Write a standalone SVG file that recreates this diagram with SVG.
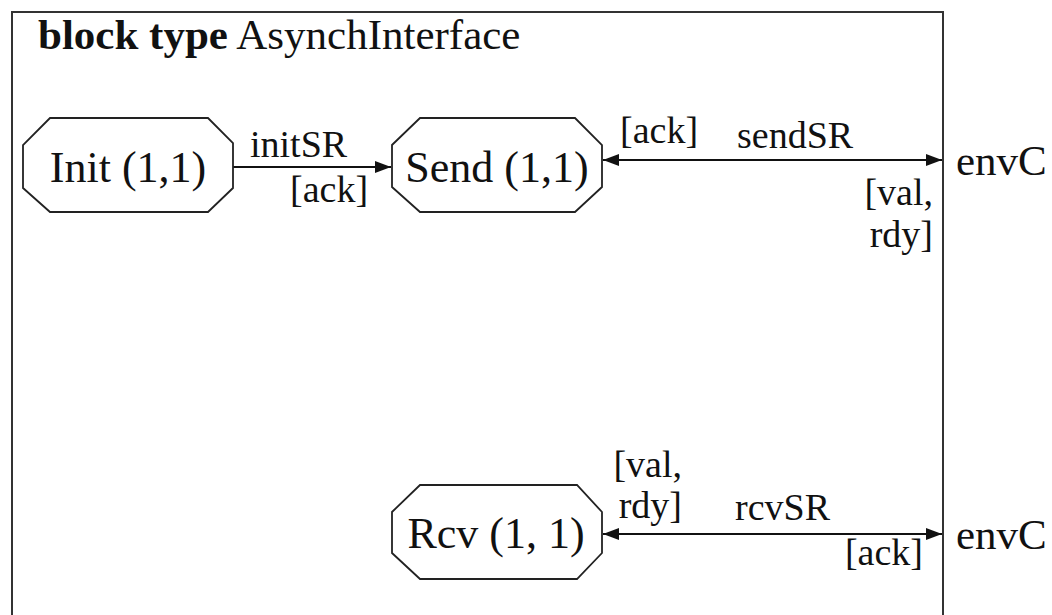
<svg xmlns="http://www.w3.org/2000/svg" width="1052" height="615" viewBox="0 0 1052 615">
<defs>
<style>
.frame{fill:none;stroke:#333;stroke-width:2}
.node{fill:#fff;stroke:#222;stroke-width:1.8}
.ntext{font-family:"Liberation Serif","Times New Roman",serif;font-size:44px;fill:#111;text-anchor:middle}
.lbl{font-family:"Liberation Serif","Times New Roman",serif;font-size:38px;fill:#111}
.title{font-family:"Liberation Serif","Times New Roman",serif;font-size:43px;fill:#111}
.env{font-family:"Liberation Serif","Times New Roman",serif;font-size:43px;fill:#111}
.conn{fill:none;stroke:#111;stroke-width:2}
</style>
<marker id="ah" viewBox="0 0 16 12" refX="16" refY="6" markerWidth="16" markerHeight="12" markerUnits="userSpaceOnUse" orient="auto-start-reverse">
<path d="M0,0 L16,6 L0,12 z" fill="#111"/>
</marker>
</defs>
<rect width="1052" height="615" fill="#fff"/>
<rect class="frame" x="12" y="12" width="931" height="640"/>
<text class="title" x="38" y="49"><tspan font-weight="bold">block type</tspan> AsynchInterface</text>

<g id="connectors">
<line class="conn" x1="233" y1="167" x2="391" y2="167" marker-end="url(#ah)"/>
<line class="conn" x1="603" y1="160" x2="942" y2="160" marker-start="url(#ah)" marker-end="url(#ah)"/>
<line class="conn" x1="603" y1="534" x2="942" y2="534" marker-start="url(#ah)" marker-end="url(#ah)"/>
<text class="lbl" x="250" y="157">initSR</text>
<text class="lbl" x="290" y="202">[ack]</text>
<text class="lbl" x="620" y="143">[ack]</text>
<text class="lbl" x="737" y="148">sendSR</text>
<text class="lbl" x="933" y="205" text-anchor="end">[val,</text>
<text class="lbl" x="933" y="247" text-anchor="end">rdy]</text>
<text class="lbl" x="682" y="477" text-anchor="end">[val,</text>
<text class="lbl" x="682" y="518" text-anchor="end">rdy]</text>
<text class="lbl" x="735" y="520">rcvSR</text>
<text class="lbl" x="923" y="565" text-anchor="end">[ack]</text>
</g>

<g id="node-init">
<polygon class="node" points="50,118 208,118 233,143 233,188 208,212 50,212 23,188 23,145"/>
<text class="ntext" x="128" y="182">Init (1,1)</text>
</g>
<g id="node-send">
<polygon class="node" points="420,118 575,118 602,145 602,187 575,212 420,212 392,187 392,145"/>
<text class="ntext" x="497" y="182">Send (1,1)</text>
</g>
<g id="node-rcv">
<polygon class="node" points="420,485 577,485 602,512 602,553 577,579 420,579 392,553 392,512"/>
<text class="ntext" x="496" y="548">Rcv (1, 1)</text>
</g>
<g id="env-top">
<text class="env" x="956" y="175">envC</text>
</g>
<g id="env-bottom">
<text class="env" x="956" y="549">envC</text>
</g>
</svg>
